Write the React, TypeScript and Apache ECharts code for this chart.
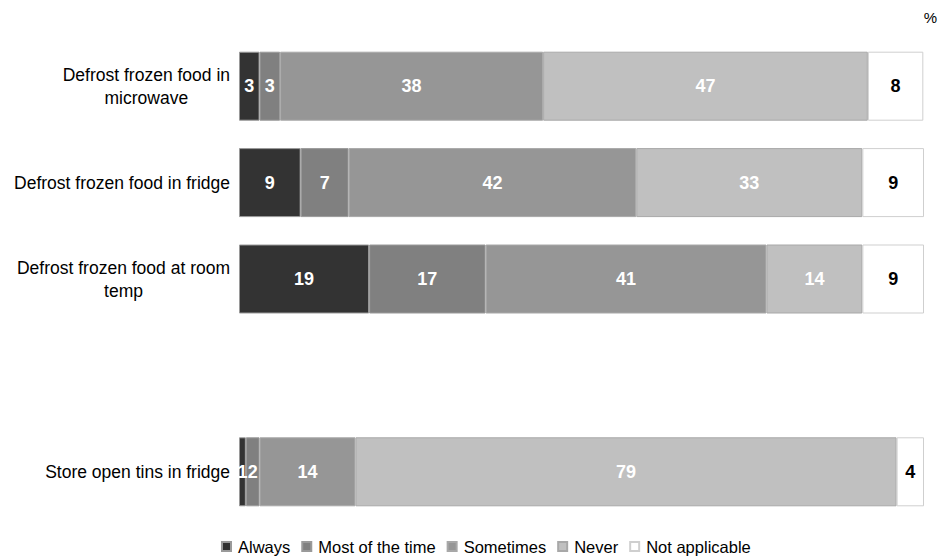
import React, { useEffect, useRef } from "react";
import * as echarts from "echarts";

const categories = [
  "Defrost frozen food in\nmicrowave",
  "Defrost frozen food in fridge",
  "Defrost frozen food at room\ntemp",
  "",
  "Store open tins in fridge",
];
const seriesNames = ["Always", "Most of the time", "Sometimes", "Never", "Not applicable"];
const always = [3.0, 9, 19, null, 1];
const mostOfTheTime = [3.0, 7, 17, null, 2];
const sometimes = [38.4, 42, 41, null, 14];
const never = [47.4, 33, 14, null, 79];
const notApplicable = [8.1, 9, 9, null, 4];

const colors = ["#333333", "#808080", "#969696", "#c0c0c0", "#ffffff"];
const borderColors = ["#9a9a9a", "#9a9a9a", "#a8a8a8", "#a8a8a8", "#cfcfcf"];
const labelColors = ["#ffffff", "#ffffff", "#ffffff", "#ffffff", "#000000"];

const FONT = "'Liberation Sans', Arial, sans-serif";

export default function App() {
  const ref = useRef<HTMLDivElement>(null);
  useEffect(() => {
    if (!ref.current) return;
    const chart = echarts.init(ref.current, undefined, { renderer: "svg" });
    const allData = [always, mostOfTheTime, sometimes, never, notApplicable];
    chart.setOption({
      animation: false,
      backgroundColor: "#ffffff",
      textStyle: { fontFamily: FONT },
      grid: { left: 239, right: 25, top: 38, bottom: 36, containLabel: false },
      xAxis: {
        type: "value",
        min: 0,
        max: 100,
        show: false,
      },
      yAxis: {
        type: "category",
        inverse: true,
        data: categories,
        axisLine: { show: false },
        axisTick: { show: false },
        axisLabel: {
          margin: 9,
          align: "right",
          formatter: (v: string) =>
            v
              .split("\n")
              .map((l) => "{a|" + l + "}")
              .join("\n"),
          rich: {
            a: {
              align: "center",
              fontSize: 17.5,
              lineHeight: 23,
              color: "#000000",
              fontFamily: FONT,
            },
          },
        },
      },
      legend: {
        left: 221,
        top: 538,
        padding: 0,
        itemWidth: 9,
        itemHeight: 9,
        itemGap: 11,
        icon: "rect",
        textStyle: { fontSize: 16.5, color: "#000000", fontFamily: FONT, padding: [0, 0, 0, 2] },
        data: seriesNames,
      },
      graphic: [
        {
          type: "text",
          right: 12,
          top: 10,
          style: { text: "%", fontSize: 15, fill: "#000000", fontFamily: FONT },
        },
      ],
      series: seriesNames.map((name, i) => ({
        name,
        type: "bar",
        stack: "total",
        barWidth: 69,
        data: allData[i],
        itemStyle: { color: colors[i], borderColor: borderColors[i], borderWidth: 1 },
        label: {
          show: true,
          position: "inside",
          color: labelColors[i],
          fontSize: 18,
          fontWeight: "bold",
          fontFamily: FONT,
          formatter: (p: any) => (p.value == null ? "" : String(Math.round(p.value))),
        },
      })),
    });
    return () => chart.dispose();
  }, []);
  return (
    <div
      ref={ref}
      style={{ position: "fixed", left: 0, top: 0, width: 949, height: 556 }}
    />
  );
}
